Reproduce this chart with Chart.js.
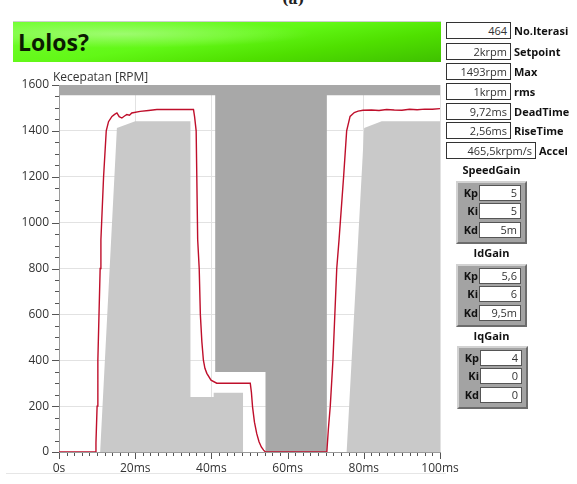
<!DOCTYPE html>
<html>
<head>
<meta charset="utf-8">
<script src="https://cdn.jsdelivr.net/npm/chart.js@4.4.1/dist/chart.umd.min.js"></script>
<style>
  body { margin: 0; background: #fff; width: 577px; height: 484px; overflow: hidden; position: relative; font-family: "Open Sans", "Noto Sans", sans-serif; }
  #chart { position: absolute; left: 0; top: 0; }
  .cap { position: absolute; top: -9px; left: 282px; font: bold 14px "DejaVu Serif", serif; color: #222; }
  .bar { position: absolute; left: 13px; top: 21px; width: 428px; height: 41px; box-sizing: border-box; border-top: 1px solid #cfcfcf;
    background: radial-gradient(ellipse 45% 35% at 25% 30%, rgba(255,255,255,0.35), rgba(255,255,255,0) 100%),
      linear-gradient(172deg, #74ff34 0%, #62f816 45%, #4fe000 70%, #3fc000 100%); }
  .bar span { position: absolute; left: 5px; top: 4px; font: bold 23px "Open Sans", sans-serif; color: #0b1a02; }
  .ytitle { position: absolute; left: 53px; top: 68px; font: 12px "Open Sans", sans-serif; color: #333; }
  .rule { position: absolute; left: 6px; top: 473px; width: 440px; height: 1px; background: #e6e6e6; }
  .box { position: absolute; left: 446px; width: 65px; height: 17px; box-sizing: border-box; border: 1px solid #333; background: #fff;
    font: 11px "Open Sans", sans-serif; color: #333; text-align: right; padding-right: 3px; line-height: 15px; }
  .lbl { position: absolute; left: 514px; font: bold 11px "Open Sans", sans-serif; color: #111; line-height: 17px; }
  .gt { position: absolute; left: 456px; width: 71px; text-align: center; font: bold 11px "Open Sans", sans-serif; color: #111; }
  .gp { position: absolute; left: 456px; width: 71px; height: 63px; box-sizing: border-box; background: #a3a3a3;
    border: 2px solid; border-color: #d2d2d2 #6c6c6c #6c6c6c #d2d2d2; }
  .gp .k { position: absolute; left: 1px; width: 19px; text-align: right; font: bold 11px "Open Sans", sans-serif; color: #111; line-height: 16px; }
  .gp .v { position: absolute; left: 21px; width: 42px; height: 16px; box-sizing: border-box; background: #fff; border: 1px solid #555;
    font: 11px "Open Sans", sans-serif; color: #333; text-align: right; padding-right: 3px; line-height: 14px; }
</style>
</head>
<body>
<div class="cap">(a)</div>
<div class="bar"><span>Lolos?</span></div>
<canvas id="chart" width="480" height="484"></canvas>
<div class="ytitle">Kecepatan [RPM]</div>
<div class="rule"></div>

<div class="box" style="top:22px">464</div><div class="lbl" style="top:22px">No.Iterasi</div>
<div class="box" style="top:43px">2krpm</div><div class="lbl" style="top:43px">Setpoint</div>
<div class="box" style="top:63px">1493rpm</div><div class="lbl" style="top:63px">Max</div>
<div class="box" style="top:83px">1krpm</div><div class="lbl" style="top:83px">rms</div>
<div class="box" style="top:103px">9,72ms</div><div class="lbl" style="top:103px">DeadTime</div>
<div class="box" style="top:122px">2,56ms</div><div class="lbl" style="top:122px">RiseTime</div>
<div class="box" style="top:142px;width:90px">465,5krpm/s</div><div class="lbl" style="top:142px;left:539px">Accel</div>

<div class="gt" style="top:162px">SpeedGain</div>
<div class="gp" style="top:181px">
  <div class="k" style="top:2px">Kp</div><div class="v" style="top:2px">5</div>
  <div class="k" style="top:20px">Ki</div><div class="v" style="top:20px">5</div>
  <div class="k" style="top:39px">Kd</div><div class="v" style="top:39px">5m</div>
</div>
<div class="gt" style="top:245px">IdGain</div>
<div class="gp" style="top:264px">
  <div class="k" style="top:2px">Kp</div><div class="v" style="top:2px">5,6</div>
  <div class="k" style="top:20px">Ki</div><div class="v" style="top:20px">6</div>
  <div class="k" style="top:39px">Kd</div><div class="v" style="top:39px">9,5m</div>
</div>
<div class="gt" style="top:328px">IqGain</div>
<div class="gp" style="top:346px;left:457px">
  <div class="k" style="top:2px">Kp</div><div class="v" style="top:2px">4</div>
  <div class="k" style="top:20px">Ki</div><div class="v" style="top:20px">0</div>
  <div class="k" style="top:39px">Kd</div><div class="v" style="top:39px">0</div>
</div>

<script>
// measured speed (ms, rpm)
const speedT = [0, 9.5, 9.7, 10.0, 10.2, 10.8, 11.0, 11.7, 12.4, 13.0, 13.9, 14.6, 15.2, 15.8, 16.5, 17.2, 17.8, 18.5, 19.1, 21.3, 23.5, 25.7, 30, 35.3,
  35.6, 36.0, 36.4, 36.8, 37.1, 37.5, 37.9, 38.3, 38.8, 39.9, 41.4, 50.2, 50.5, 50.8, 51.3, 51.9, 52.5, 53.1, 53.7, 54.2,
  70.3, 70.7, 71.2, 71.9, 72.9, 73.5, 74.7, 75.5, 76.4, 77.5, 78.5, 79.8, 82, 84, 86, 88, 90, 92, 94, 96, 98, 100];
const speedV = [0, 0, 40, 200, 400, 800, 925, 1200, 1400, 1440, 1463, 1472, 1478, 1462, 1456, 1465, 1471, 1468, 1478, 1485, 1489, 1493, 1493, 1493,
  1460, 1400, 925, 800, 600, 480, 400, 365, 343, 313, 300, 300, 260, 197, 130, 80, 45, 22, 8, 0,
  0, 100, 200, 400, 800, 925, 1200, 1400, 1463, 1480, 1486, 1490, 1491, 1489, 1493, 1491, 1490, 1494, 1492, 1495, 1494, 1497];

// upper limit (dark gray above)
const upperT = [0, 41.0, 41.0, 54.2, 54.2, 70.3, 70.3, 100];
const upperV = [1555, 1555, 349, 349, 0, 0, 1555, 1555];

// lower limit (light gray below)
const lowerT = [0, 10.8, 15.2, 20, 34.5, 34.5, 40.6, 40.6, 48.3, 48.3, 75.5, 80.1, 84.7, 100];
const lowerV = [0, 0, 1413, 1442, 1442, 240, 240, 258, 258, 0, 0, 1413, 1442, 1442];

// axis ticks
const xMajor = [0, 20, 40, 60, 80, 100];
const xLabels = ["0s", "20ms", "40ms", "60ms", "80ms", "100ms"];
const yMajor = [0, 200, 400, 600, 800, 1000, 1200, 1400, 1600];

const pts = (t, v) => t.map((x, i) => ({ x: x, y: v[i] }));

const isXMajor = (val) => xMajor.indexOf(Math.round(val)) >= 0;
const isYMajor = (val) => yMajor.indexOf(Math.round(val)) >= 0;

// major/minor tick marks like the LabVIEW graph
const tickMarks = {
  id: "tickMarks",
  afterDraw(chart) {
    const ctx = chart.ctx;
    const xs = chart.scales.x, ys = chart.scales.y;
    const bottom = chart.chartArea.bottom, left = chart.chartArea.left;
    ctx.save();
    ctx.strokeStyle = "#555";
    ctx.lineWidth = 1;
    ctx.beginPath();
    xs.ticks.forEach((t) => {
      const px = Math.round(xs.getPixelForValue(t.value)) + 0.5;
      const len = isXMajor(t.value) ? 6 : 3;
      ctx.moveTo(px, bottom + 1);
      ctx.lineTo(px, bottom + 1 + len);
    });
    ys.ticks.forEach((t) => {
      const py = Math.round(ys.getPixelForValue(t.value)) + 0.5;
      const len = isYMajor(t.value) ? 7 : 4;
      ctx.moveTo(left - len, py);
      ctx.lineTo(left, py);
    });
    ctx.stroke();
    ctx.restore();
  },
};

new Chart(document.getElementById("chart"), {
  type: "line",
  data: {
    datasets: [
      {
        data: pts(speedT, speedV),
        borderColor: "#bf0f2b",
        borderWidth: 1.4,
        pointRadius: 0,
        tension: 0,
        fill: false,
      },
      {
        data: pts(upperT, upperV),
        borderWidth: 0,
        borderColor: "rgba(0,0,0,0)",
        backgroundColor: "#a8a8a8",
        pointRadius: 0,
        tension: 0,
        fill: "end",
      },
      {
        data: pts(lowerT, lowerV),
        borderWidth: 0,
        borderColor: "rgba(0,0,0,0)",
        backgroundColor: "#c9c9c9",
        pointRadius: 0,
        tension: 0,
        fill: "origin",
      },
    ],
  },
  plugins: [tickMarks],
  options: {
    responsive: false,
    animation: false,
    devicePixelRatio: 1,
    layout: { padding: { left: 0, top: 85, right: 40, bottom: 0 } },
    plugins: { legend: { display: false }, tooltip: { enabled: false } },
    scales: {
      x: {
        type: "linear",
        min: 0,
        max: 100,
        afterFit: (s) => { s.height = 32; },
        border: { display: true, color: "#9a9a9a" },
        grid: {
          color: (c) => (isXMajor(c.tick.value) ? "#e2e2e2" : "rgba(0,0,0,0)"),
          drawTicks: false,
        },
        ticks: {
          stepSize: 2,
          autoSkip: false,
          maxRotation: 0,
          minRotation: 0,
          padding: 9,
          color: "#333",
          font: { family: "'Open Sans'", size: 12 },
          callback: (v) => {
            const i = xMajor.indexOf(Math.round(v));
            return i >= 0 ? xLabels[i] : "";
          },
        },
      },
      y: {
        min: 0,
        max: 1600,
        afterFit: (s) => { s.width = 59; },
        border: { display: true, color: "#9a9a9a" },
        grid: {
          color: (c) => (isYMajor(c.tick.value) ? "#e2e2e2" : "rgba(0,0,0,0)"),
          drawTicks: false,
        },
        ticks: {
          stepSize: 50,
          autoSkip: false,
          padding: 10,
          color: "#333",
          font: { family: "'Open Sans'", size: 12 },
          callback: (v) => (isYMajor(v) ? String(v) : ""),
        },
      },
    },
  },
});
</script>
</body>
</html>
